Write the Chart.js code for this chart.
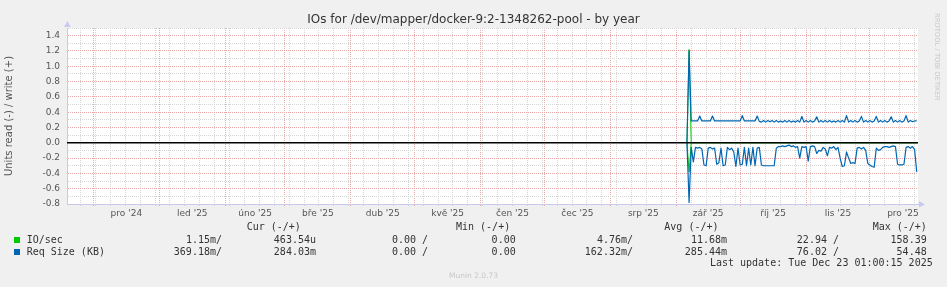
<!DOCTYPE html>
<html lang="cs">
<head>
<meta charset="utf-8">
<title>IOs - by year</title>
<script src="https://cdn.jsdelivr.net/npm/chart.js@4.4.1/dist/chart.umd.min.js"></script>
<style>
  html, body { margin: 0; padding: 0; background: #f0f0f0; }
  #graph { position: relative; width: 947px; height: 287px; overflow: hidden; }
  #graph canvas { position: absolute; left: 0; top: 0; }
  .txt { position: absolute; white-space: pre; color: #333; }
  .mono { font: 10px "DejaVu Sans Mono", monospace; line-height: 12px; height: 12px; }
  #title { left: 0; width: 947px; top: 12px; text-align: center; font: 12px "DejaVu Sans", sans-serif; line-height: 15px; }
  #watermark { left: 933px; top: 13px; writing-mode: vertical-rl; font: 6.8px "DejaVu Sans", sans-serif; color: #c8c8c8; }
  #version { left: 0; width: 947px; top: 271px; text-align: center; font: 7.5px "DejaVu Sans", sans-serif; line-height: 10px; color: #c8c8c8; }
  .box { position: absolute; left: 14px; width: 6px; height: 6px; }
</style>
</head>
<body>
<div id="graph">
  <canvas id="ioChart" width="947" height="287"></canvas>
  <div id="title" class="txt">IOs for /dev/mapper/docker-9:2-1348262-pool - by year</div>
  <div id="watermark" class="txt">RRDTOOL / TOBI OETIKER</div>
  <div id="version" class="txt">Munin 2.0.73</div>
</div>
<script>
// Time axis, in days counted from 1 Dec 2024
var monthLabels = ["pro '24", "led '25", "úno '25", "bře '25", "dub '25", "kvě '25", "čen '25",
  "čec '25", "srp '25", "zář '25", "říj '25", "lis '25", "pro '25"];
var monthStarts = [0, 31, 62, 90, 121, 151, 182, 212, 243, 274, 304, 335, 365, 396];
var firstMonday = -6;          // 25 Nov 2024
var xMin = -12.4, xMax = 387.6; // 400 days ending 23 Dec 2025

// Y axis
var yMajorTicks = [-0.8, -0.6, -0.4, -0.2, 0.0, 0.2, 0.4, 0.6, 0.8, 1.0, 1.2, 1.4];
var yMin = -0.8, yMax = 1.5;

// Daily samples, first one on day 279 (6 Sep 2025)
var firstDay = 279;

var reqWrite = [0,
  1.20, 0.285, 0.285, 0.285, 0.285, 0.350, 0.285, 0.285, 0.285, 0.285, 0.285, 0.350,
  0.285, 0.285, 0.285, 0.285, 0.285, 0.285, 0.285, 0.285, 0.285, 0.285, 0.285, 0.285,
  0.285, 0.355, 0.285, 0.285, 0.285, 0.285, 0.285, 0.285, 0.350, 0.280, 0.270, 0.290,
  0.270, 0.290, 0.275, 0.290, 0.270, 0.290, 0.270, 0.285, 0.270, 0.290, 0.270, 0.290,
  0.270, 0.285, 0.270, 0.290, 0.270, 0.345, 0.270, 0.290, 0.270, 0.290, 0.270, 0.285,
  0.340, 0.270, 0.290, 0.270, 0.290, 0.270, 0.290, 0.270, 0.285, 0.270, 0.290, 0.270,
  0.290, 0.270, 0.355, 0.270, 0.290, 0.270, 0.290, 0.270, 0.285, 0.345, 0.270, 0.290,
  0.270, 0.290, 0.270, 0.285, 0.345, 0.270, 0.290, 0.270, 0.290, 0.270, 0.285, 0.340,
  0.270, 0.290, 0.270, 0.290, 0.270, 0.285, 0.355, 0.270, 0.290, 0.275, 0.285, 0.285];

var reqRead = [0,
  -0.78, -0.06, -0.25, -0.06, -0.07, -0.06, -0.08, -0.29, -0.30, -0.07, -0.06, -0.08,
  -0.07, -0.28, -0.26, -0.07, -0.30, -0.29, -0.06, -0.09, -0.07, -0.12, -0.31, -0.07,
  -0.29, -0.28, -0.06, -0.30, -0.07, -0.29, -0.06, -0.30, -0.07, -0.06, -0.29, -0.30,
  -0.30, -0.30, -0.30, -0.30, -0.30, -0.07, -0.05, -0.05, -0.04, -0.05, -0.04, -0.03,
  -0.05, -0.04, -0.06, -0.05, -0.20, -0.05, -0.06, -0.05, -0.24, -0.05, -0.04, -0.05,
  -0.14, -0.10, -0.11, -0.06, -0.08, -0.17, -0.06, -0.07, -0.05, -0.09, -0.06, -0.20,
  -0.31, -0.30, -0.12, -0.20, -0.27, -0.26, -0.27, -0.07, -0.06, -0.08, -0.06, -0.10,
  -0.27, -0.29, -0.31, -0.32, -0.07, -0.10, -0.09, -0.06, -0.05, -0.05, -0.06, -0.05,
  -0.04, -0.05, -0.28, -0.29, -0.29, -0.28, -0.06, -0.05, -0.07, -0.05, -0.09, -0.38];

var ioWrite = [0,
  1.22, 0.002, 0.002, 0.002, 0.002, 0.002, 0.002, 0.002, 0.002, 0.002, 0.002, 0.002,
  0.002, 0.002, 0.002, 0.002, 0.002, 0.002, 0.002, 0.002, 0.002, 0.002, 0.002, 0.002,
  0.002, 0.002, 0.002, 0.002, 0.002, 0.002, 0.002, 0.002, 0.002, 0.002, 0.002, 0.002,
  0.002, 0.002, 0.002, 0.002, 0.002, 0.002, 0.002, 0.002, 0.002, 0.002, 0.002, 0.002,
  0.002, 0.002, 0.002, 0.002, 0.002, 0.002, 0.002, 0.002, 0.002, 0.002, 0.002, 0.002,
  0.002, 0.002, 0.002, 0.002, 0.002, 0.002, 0.002, 0.002, 0.002, 0.002, 0.002, 0.002,
  0.002, 0.002, 0.002, 0.002, 0.002, 0.002, 0.002, 0.002, 0.002, 0.002, 0.002, 0.002,
  0.002, 0.002, 0.002, 0.002, 0.002, 0.002, 0.002, 0.002, 0.002, 0.002, 0.002, 0.002,
  0.002, 0.002, 0.002, 0.002, 0.002, 0.002, 0.002, 0.002, 0.002, 0.002, 0.002, 0.002];

var ioRead = [0,
  -0.38, -0.001, -0.001, -0.001, -0.001, -0.001, -0.001, -0.001, -0.001, -0.001, -0.001, -0.001,
  -0.001, -0.001, -0.001, -0.001, -0.001, -0.001, -0.001, -0.001, -0.001, -0.001, -0.001, -0.001,
  -0.001, -0.001, -0.001, -0.001, -0.001, -0.001, -0.001, -0.001, -0.001, -0.001, -0.001, -0.001,
  -0.001, -0.001, -0.001, -0.001, -0.001, -0.001, -0.001, -0.001, -0.001, -0.001, -0.001, -0.001,
  -0.001, -0.001, -0.001, -0.001, -0.001, -0.001, -0.001, -0.001, -0.001, -0.001, -0.001, -0.001,
  -0.001, -0.001, -0.001, -0.001, -0.001, -0.001, -0.001, -0.001, -0.001, -0.001, -0.001, -0.001,
  -0.001, -0.001, -0.001, -0.001, -0.001, -0.001, -0.001, -0.001, -0.001, -0.001, -0.001, -0.001,
  -0.001, -0.001, -0.001, -0.001, -0.001, -0.001, -0.001, -0.001, -0.001, -0.001, -0.001, -0.001,
  -0.001, -0.001, -0.001, -0.001, -0.001, -0.001, -0.001, -0.001, -0.001, -0.001, -0.001, -0.001];

// Legend table
var seriesNames = ['IO/sec', 'Req Size (KB)'];
var seriesColors = ['#00cc00', '#0066b3'];
var statHeaders = ['Cur (-/+)', 'Min (-/+)', 'Avg (-/+)', 'Max (-/+)'];
var statRead = [['1.15m/', '0.00 /', '4.76m/', '22.94 /'],
                ['369.18m/', '0.00 /', '162.32m/', '76.02 /']];
var statWrite = [['463.54u', '0.00', '11.68m', '158.39'],
                 ['284.03m', '0.00', '285.44m', '54.48']];
var lastUpdate = 'Last update: Tue Dec 23 01:00:15 2025';

var majorGrid = '#eaa9a9';
var minorGrid = '#d6d6d6';

// --- legend text (monospace, like rrdtool) ---
var graph = document.getElementById('graph');
function addText(text, css) {
  var el = document.createElement('div');
  el.className = 'txt mono';
  el.textContent = text;
  for (var k in css) el.style[k] = css[k];
  graph.appendChild(el);
}
var headerLeft = [246.7, 456, 664.3, 872.7];
var readRight = [222, 428, 633, 839];
var writeRight = [316, 515.7, 727, 926.7];
var rowTop = [234, 245.7];
statHeaders.forEach(function (h, i) { addText(h, { left: headerLeft[i] + 'px', top: '221.3px' }); });
seriesNames.forEach(function (name, r) {
  var box = document.createElement('div');
  box.className = 'box';
  box.style.top = (rowTop[r] + 3) + 'px';
  box.style.background = seriesColors[r];
  graph.appendChild(box);
  addText(name, { left: '26.7px', top: rowTop[r] + 'px' });
  for (var c = 0; c < 4; c++) {
    addText(statRead[r][c], { right: (947 - readRight[c]) + 'px', top: rowTop[r] + 'px' });
    addText(statWrite[r][c], { right: (947 - writeRight[c]) + 'px', top: rowTop[r] + 'px' });
  }
});
addText(lastUpdate, { right: (947 - 932.7) + 'px', top: '257.3px' });

// --- chart ---
Chart.defaults.font.family = '"DejaVu Sans", "Liberation Sans", sans-serif';
Chart.defaults.color = '#555';

function points(values) {
  return values.map(function (v, i) { return { x: firstDay + i, y: v }; });
}

function buildXTicks() {
  var ticks = [];
  for (var m = 0; m < monthStarts.length; m++) {
    if (monthStarts[m] >= xMin && monthStarts[m] <= xMax) ticks.push({ value: monthStarts[m], kind: 'month' });
    if (m < monthLabels.length) {
      ticks.push({ value: (monthStarts[m] + monthStarts[m + 1]) / 2, kind: 'label', label: monthLabels[m] });
    }
  }
  for (var d = firstMonday; d <= xMax; d += 7) {
    if (monthStarts.indexOf(d) === -1) ticks.push({ value: d, kind: 'week' });
  }
  return ticks.sort(function (a, b) { return a.value - b.value; });
}

function buildYTicks() {
  var ticks = [];
  yMajorTicks.forEach(function (v) {
    ticks.push({ value: v, kind: 'major', label: v.toFixed(1) });
    ticks.push({ value: Math.round((v + 0.1) * 10) / 10, kind: 'minor' });
  });
  return ticks;
}

function gridColor(tick) {
  if (!tick) return 'transparent';
  if (tick.kind === 'month' || tick.kind === 'major') return majorGrid;
  if (tick.kind === 'week' || tick.kind === 'minor') return minorGrid;
  return 'transparent';
}

var plotBackground = {
  id: 'plotBackground',
  beforeDraw: function (chart) {
    var a = chart.chartArea, ctx = chart.ctx;
    ctx.save();
    ctx.fillStyle = '#ffffff';
    ctx.fillRect(a.left, a.top, a.right - a.left, a.bottom - a.top);
    ctx.restore();
  }
};

// little rrdtool style arrows at the axis ends
var axisArrows = {
  id: 'axisArrows',
  afterDraw: function (chart) {
    var a = chart.chartArea, ctx = chart.ctx;
    ctx.save();
    ctx.fillStyle = '#c8c8f4';
    ctx.beginPath();
    ctx.moveTo(a.left - 3, a.top - 1);
    ctx.lineTo(a.left + 3.5, a.top - 1);
    ctx.lineTo(a.left + 0.5, a.top - 7);
    ctx.fill();
    ctx.beginPath();
    ctx.moveTo(a.right + 1, a.bottom - 3);
    ctx.lineTo(a.right + 1, a.bottom + 3.5);
    ctx.lineTo(a.right + 7, a.bottom + 0.5);
    ctx.fill();
    ctx.restore();
  }
};

var lineStyle = { pointRadius: 0, tension: 0, fill: false, borderJoinStyle: 'round' };

function series(label, values, color, width, order) {
  return Object.assign({ label: label, data: points(values), borderColor: color, borderWidth: width, order: order }, lineStyle);
}

var chart = new Chart(document.getElementById('ioChart').getContext('2d'), {
  type: 'line',
  data: {
    datasets: [
      Object.assign({ label: 'zero', data: [{ x: xMin, y: 0 }, { x: xMax, y: 0 }], borderColor: '#000000', borderWidth: 1.4, order: 0 }, lineStyle),
      series('Req Size (KB) read', reqRead, seriesColors[1], 1.2, 1),
      series('Req Size (KB) write', reqWrite, seriesColors[1], 1.2, 1),
      series('IO/sec read', ioRead, seriesColors[0], 1, 2),
      series('IO/sec write', ioWrite, seriesColors[0], 1, 2)
    ]
  },
  options: {
    responsive: false,
    animation: false,
    events: [],
    layout: { padding: { left: 0, right: 29, top: 28, bottom: 63 } },
    plugins: { legend: { display: false }, tooltip: { enabled: false }, title: { display: false } },
    scales: {
      x: {
        type: 'linear',
        min: xMin,
        max: xMax,
        afterBuildTicks: function (s) { s.ticks = buildXTicks(); },
        afterFit: function (s) { s.height = 20; },
        ticks: {
          autoSkip: false,
          maxRotation: 0,
          minRotation: 0,
          padding: 2,
          font: { size: 9 },
          color: '#555',
          callback: function (v, i, t) { return t[i].label || ''; }
        },
        grid: {
          color: function (c) { return gridColor(c.tick); },
          tickColor: function (c) { return gridColor(c.tick); },
          drawTicks: true,
          tickLength: 2,
          lineWidth: 1
        },
        border: { color: '#c8c8e8', dash: [1, 1] }
      },
      y: {
        type: 'linear',
        min: yMin,
        max: yMax,
        afterBuildTicks: function (s) { s.ticks = buildYTicks(); },
        afterFit: function (s) { s.width = 67; },
        ticks: {
          autoSkip: false,
          padding: 7,
          font: { size: 9 },
          color: '#555',
          callback: function (v, i, t) { return t[i].label || ''; }
        },
        grid: {
          color: function (c) { return gridColor(c.tick); },
          drawTicks: false,
          lineWidth: 1
        },
        border: { color: '#c8c8f4', dash: [1, 1] },
        title: {
          display: true,
          text: 'Units read (-) / write (+)',
          color: '#555',
          font: { size: 10 },
          padding: { top: 3, bottom: 0 }
        }
      }
    }
  },
  plugins: [plotBackground, axisArrows]
});
</script>
</body>
</html>
